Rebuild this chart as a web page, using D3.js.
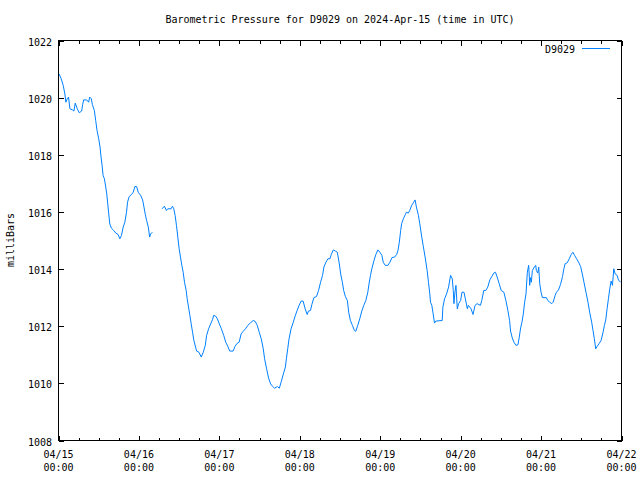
<!DOCTYPE html>
<html>
<head>
<meta charset="utf-8">
<script src="https://cdn.jsdelivr.net/npm/d3@7"></script>
<style>
  html, body { margin: 0; padding: 0; background: #fff; }
  svg text { font-family: "DejaVu Sans Mono", "Liberation Mono", monospace; font-size: 10px; fill: #000; }
</style>
</head>
<body>
<svg id="chart" width="640" height="480"></svg>
<script>
// Hours since 2024-04-15 00:00 UTC
const hours = [
  0.2,0.8,1.4,1.9,2.2,2.6,3.0,3.4,4.2,4.6,5.0,5.6,6.2,6.9,7.2,7.5,8.4,9.0,9.3,9.8,
  10.1,10.7,11.1,11.5,12.0,12.4,12.7,13.0,13.3,13.7,14.1,14.4,14.7,15.0,15.3,15.8,16.5,17.1,17.8,18.3,
  18.8,19.3,19.8,20.3,20.6,21.1,21.8,22.3,22.8,23.3,23.8,24.5,25.1,25.5,25.9,26.3,26.8,27.2,27.5,28.0,
  29.5,
  30.9,31.6,32.2,32.6,33.6,34.0,34.4,34.8,35.2,35.6,36.0,36.4,36.8,37.2,37.6,38.1,38.4,38.8,39.2,39.6,
  40.0,40.4,40.9,41.2,41.9,42.6,43.2,43.8,44.2,44.8,45.4,46.0,46.3,46.9,47.4,48.0,48.6,49.3,49.9,50.5,
  51.1,52.1,52.7,53.3,53.9,54.5,55.1,55.8,56.5,57.3,58.1,58.7,59.3,59.9,60.5,61.1,61.5,62.1,62.7,63.3,
  63.9,64.5,65.3,65.9,66.5,67.1,67.7,68.0,68.4,68.8,69.4,70.0,70.6,71.2,71.8,72.4,73.0,73.6,74.2,74.6,
  75.2,75.6,76.2,77.0,77.6,78.2,78.8,79.2,79.8,80.4,81.0,81.4,82.0,82.6,83.2,83.8,84.2,84.7,85.1,85.6,
  86.2,86.6,87.1,87.7,88.3,88.7,89.3,89.9,90.5,91.1,91.7,92.3,92.7,93.1,93.5,94.1,94.7,95.3,95.9,96.5,
  96.9,97.5,98.3,98.9,99.5,100.3,100.9,101.3,101.7,102.1,102.4,102.9,103.5,103.8,104.4,104.8,105.4,106.0,106.4,106.8,
  107.4,107.8,108.4,108.8,109.4,110.0,110.4,110.8,111.0,111.4,111.8,112.2,112.6,114.5,114.7,115.2,115.8,116.4,117.0,117.5,
  117.8,118.0,118.3,118.6,119.0,119.4,120.0,120.4,121.0,121.4,122.0,122.3,123.1,123.7,124.3,124.9,125.9,126.3,126.9,127.5,
  128.1,128.7,129.3,129.9,130.4,130.9,131.5,132.1,132.9,133.5,134.1,134.6,134.9,135.4,135.9,136.5,137.1,137.5,137.9,138.3,
  138.7,139.1,139.5,139.9,140.3,140.5,140.6,140.8,141.1,141.4,142.0,142.4,142.6,143.0,143.3,143.6,144.0,144.4,145.6,146.0,
  146.6,147.2,147.6,148.2,148.6,149.2,149.8,150.4,150.8,151.2,151.8,152.4,153.0,153.5,154.0,154.6,155.2,155.8,156.3,156.8,
  157.4,158.0,158.5,159.1,159.5,159.9,160.3,160.7,161.3,161.9,162.5,162.9,163.3,163.7,164.1,164.5,164.9,165.3,165.7,166.1,
  166.7,167.1,167.7
];
// Pressure in millibars (null = missing data)
const pressure = [
  1020.83,1020.66,1020.43,1020.13,1019.84,1019.96,1020.02,1019.61,1019.57,1019.53,1019.81,1019.61,1019.47,1019.53,1019.75,1019.92,1019.92,1019.84,1020.02,1019.96,
  1019.76,1019.55,1019.20,1018.85,1018.56,1018.27,1017.92,1017.63,1017.28,1017.16,1016.87,1016.63,1016.28,1015.93,1015.58,1015.43,1015.35,1015.26,1015.21,1015.06,
  1015.18,1015.47,1015.64,1015.99,1016.34,1016.54,1016.61,1016.69,1016.89,1016.89,1016.69,1016.58,1016.42,1016.17,1015.91,1015.70,1015.47,1015.12,1015.23,1015.29,
  null,
  1016.11,1016.20,1016.05,1016.11,1016.11,1016.20,1016.11,1015.88,1015.53,1015.12,1014.71,1014.42,1014.13,1013.89,1013.54,1013.25,1012.96,1012.67,1012.38,1012.08,
  1011.79,1011.50,1011.27,1011.13,1011.09,1010.92,1011.09,1011.33,1011.68,1011.91,1012.08,1012.24,1012.38,1012.35,1012.26,1012.08,1011.91,1011.68,1011.44,1011.30,
  1011.13,1011.13,1011.30,1011.40,1011.44,1011.73,1011.82,1011.91,1012.03,1012.12,1012.20,1012.17,1012.03,1011.79,1011.56,1011.21,1010.86,1010.51,1010.18,1009.98,
  1009.89,1009.83,1009.89,1009.83,1010.07,1010.33,1010.57,1010.86,1011.21,1011.56,1011.91,1012.12,1012.35,1012.55,1012.73,1012.88,1012.88,1012.61,1012.41,1012.53,
  1012.55,1012.76,1013.00,1013.04,1013.25,1013.54,1013.78,1014.07,1014.24,1014.36,1014.36,1014.51,1014.67,1014.63,1014.59,1014.18,1013.83,1013.54,1013.25,1013.04,
  1012.90,1012.49,1012.20,1012.03,1011.85,1011.82,1012.03,1012.26,1012.53,1012.73,1012.90,1013.19,1013.51,1013.78,1014.01,1014.28,1014.51,1014.67,1014.59,1014.48,
  1014.24,1014.13,1014.13,1014.24,1014.40,1014.42,1014.51,1014.65,1014.94,1015.35,1015.59,1015.76,1015.91,1015.99,1015.96,1016.05,1016.23,1016.34,1016.42,1016.17,
  1015.88,1015.59,1015.12,1014.83,1014.42,1013.95,1013.54,1013.13,1012.84,1012.73,1012.43,1012.11,1012.18,1012.20,1012.67,1012.96,1013.13,1013.37,1013.78,1013.66,
  1013.25,1012.79,1013.19,1013.43,1012.61,1012.79,1012.90,1013.19,1013.19,1012.96,1012.61,1012.73,1012.61,1012.41,1012.73,1012.79,1012.73,1012.90,1013.25,1013.25,
  1013.37,1013.62,1013.74,1013.86,1013.89,1013.72,1013.49,1013.25,1013.19,1012.90,1012.55,1012.20,1011.83,1011.59,1011.44,1011.33,1011.35,1011.62,1011.94,1012.14,
  1012.43,1012.84,1013.13,1013.89,1014.13,1013.72,1013.43,1013.70,1013.54,1013.95,1014.07,1014.13,1013.95,1013.86,1014.07,1013.49,1013.19,1013.00,1013.00,1012.90,
  1012.84,1012.79,1012.84,1013.08,1013.19,1013.27,1013.46,1013.74,1014.01,1014.19,1014.22,1014.36,1014.51,1014.59,1014.48,1014.36,1014.24,1014.09,1013.83,1013.54,
  1013.19,1012.84,1012.49,1012.14,1011.85,1011.56,1011.21,1011.29,1011.39,1011.50,1011.79,1012.03,1012.22,1012.61,1012.96,1013.31,1013.58,1013.43,1014.01,1013.83,
  1013.78,1013.62,1013.54
];
const yTicks = [1008, 1010, 1012, 1014, 1016, 1018, 1020, 1022];
const dayLabels = ["04/15", "04/16", "04/17", "04/18", "04/19", "04/20", "04/21", "04/22"];
const timeLabel = "00:00";
const seriesName = "D9029";
const title = "Barometric Pressure for D9029 on 2024-Apr-15 (time in UTC)";
const yLabel = "milliBars";

const start = Date.UTC(2024, 3, 15);
const end = Date.UTC(2024, 3, 22);
const data = hours.map((h, i) => ({ t: new Date(start + h * 3600e3), p: pressure[i] }));

const svg = d3.select("#chart");
svg.append("rect").attr("width", 640).attr("height", 480).attr("fill", "#fff");

const L = 58.5, R = 621.5, T = 40.5, B = 440.5;
const x = d3.scaleUtc().domain([new Date(start), new Date(end)]).range([L, R]);
const y = d3.scaleLinear().domain([1008, 1022]).range([B, T]);

const color = "#0080ff";
const majorTicks = d3.utcDay.range(new Date(start), new Date(end + 1));
const minorTicks = d3.utcHour.every(6).range(new Date(start), new Date(end)).filter(d => d.getUTCHours() !== 0);

const g = svg.append("g");
const tickStroke = (sel) => sel.attr("stroke", "#000").attr("stroke-width", 1).attr("shape-rendering", "crispEdges");

// x ticks bottom and top
majorTicks.forEach(d => {
  const xx = Math.round(x(d)) + 0.5;
  g.append("line").attr("x1", xx).attr("x2", xx).attr("y1", B).attr("y2", B - 5).call(tickStroke);
  g.append("line").attr("x1", xx).attr("x2", xx).attr("y1", T).attr("y2", T + 5).call(tickStroke);
});
minorTicks.forEach(d => {
  const xx = Math.round(x(d)) + 0.5;
  g.append("line").attr("x1", xx).attr("x2", xx).attr("y1", B).attr("y2", B - 3).call(tickStroke);
  g.append("line").attr("x1", xx).attr("x2", xx).attr("y1", T).attr("y2", T + 3).call(tickStroke);
});
// y ticks left and right
yTicks.forEach(v => {
  const yy = Math.round(y(v)) + 0.5;
  g.append("line").attr("x1", L).attr("x2", L + 5).attr("y1", yy).attr("y2", yy).call(tickStroke);
  g.append("line").attr("x1", R).attr("x2", R - 5).attr("y1", yy).attr("y2", yy).call(tickStroke);
  g.append("text").attr("x", 52).attr("y", yy + 4).attr("text-anchor", "end").text(v);
});
// x labels
majorTicks.forEach((d, i) => {
  const xx = x(d);
  g.append("text").attr("x", xx).attr("y", 458).attr("text-anchor", "middle").text(dayLabels[i]);
  g.append("text").attr("x", xx).attr("y", 471).attr("text-anchor", "middle").text(timeLabel);
});

// frame
g.append("rect").attr("x", L).attr("y", T).attr("width", R - L).attr("height", B - T)
  .attr("fill", "none").attr("stroke", "#000").attr("shape-rendering", "crispEdges");

// line
const line = d3.line().defined(d => d.p !== null).x(d => x(d.t)).y(d => y(d.p));
svg.append("path").datum(data).attr("d", line).attr("fill", "none")
  .attr("stroke", color).attr("stroke-width", 1);

// title
svg.append("text").attr("x", 340).attr("y", 23).attr("text-anchor", "middle").text(title);
// y label
svg.append("text").attr("transform", "translate(14,240) rotate(-90)").attr("text-anchor", "middle").text(yLabel);
// legend
svg.append("text").attr("x", 575).attr("y", 53).attr("text-anchor", "end").text(seriesName);
svg.append("line").attr("x1", 582).attr("x2", 610).attr("y1", 48.5).attr("y2", 48.5)
  .attr("stroke", color).attr("stroke-width", 1);
</script>
</body>
</html>
